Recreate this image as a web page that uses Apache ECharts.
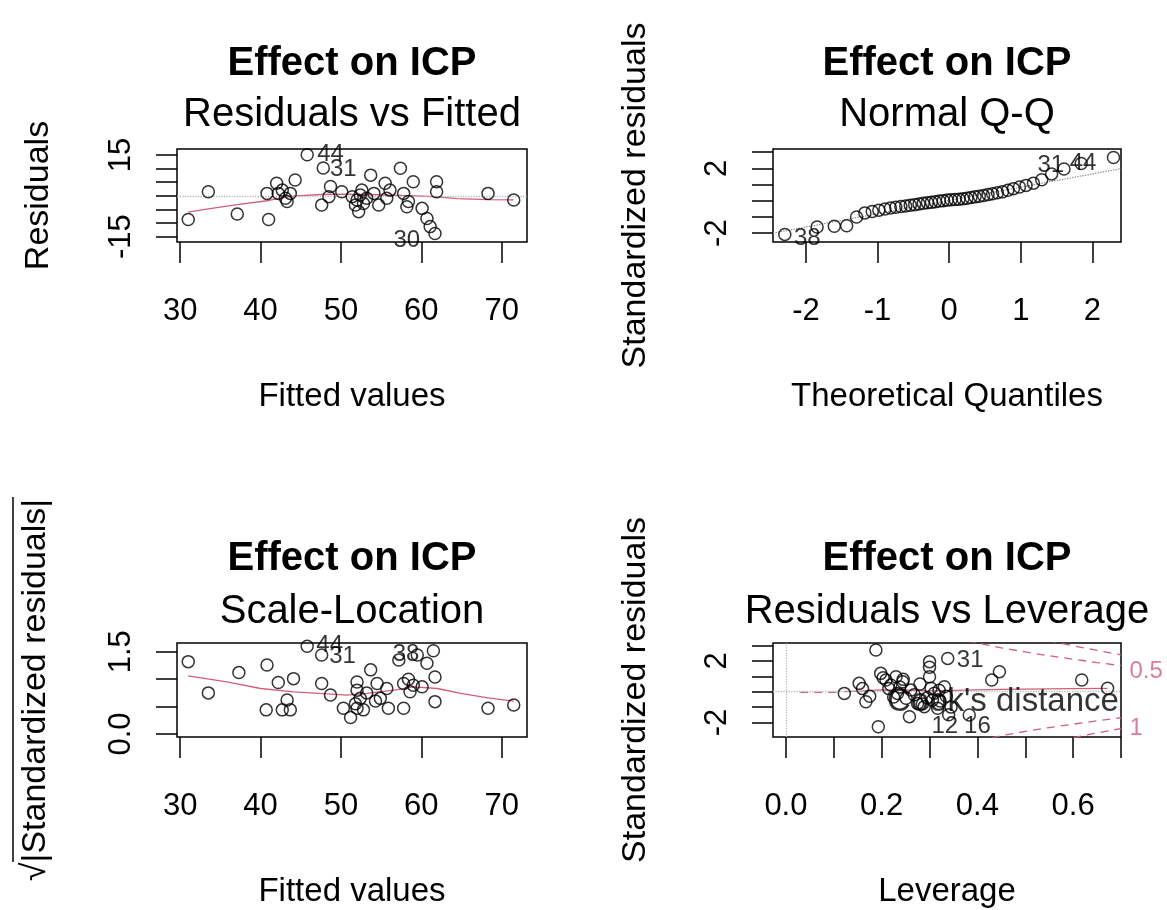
<!DOCTYPE html>
<html><head><meta charset="utf-8">
<script src="https://cdn.jsdelivr.net/npm/echarts@6/dist/echarts.min.js"></script>
<style>html,body{margin:0;padding:0;background:#fff}#c{width:1167px;height:910px}</style>
</head><body><div id="c"></div>
<script>
// ---------- DATA ----------
const mainTitle = 'Effect on ICP';
const panelTitles = ['Residuals vs Fitted', 'Normal Q-Q', 'Scale-Location', 'Residuals vs Leverage'];
const xNames = ['Fitted values', 'Theoretical Quantiles', 'Fitted values', 'Leverage'];
const yNames = ['Residuals', 'Standardized residuals', '\u221A|Standardized residuals|', 'Standardized residuals'];

// Panel 1: Residuals vs Fitted  [fitted, residual]
const rvfPoints = [[31.0,-8.7],[33.5,1.5],[37.1,-6.7],[40.8,0.9],[41.0,-8.7],[42.0,4.6],[42.7,2.1],[42.2,0.9],[43.1,-0.9],[43.3,-2.1],[44.3,5.8],[43.7,0.9],[45.8,15.1],[47.8,10.2],[47.6,-3.4],[48.5,-0.3],[48.7,3.4],[50.1,1.5],[51.4,-0.3],[51.8,-3.4],[52.2,-5.8],[52.6,2.1],[52.0,-1.5],[52.8,-2.8],[52.4,0.3],[53.7,7.6],[53.2,-0.9],[54.7,-3.4],[55.5,4.6],[55.7,-0.9],[57.4,10.1],[57.8,0.9],[58.2,-4.0],[58.4,-2.1],[59.0,5.2],[60.1,-4.6],[60.7,-8.3],[61.1,-11.3],[61.7,-13.8],[61.9,5.2],[61.9,1.5],[68.3,0.9],[71.5,-1.5],[54.1,0.9],[56.1,2.1]];
const rvfSmooth = [[31.0,-6.0],[33.5,-4.8],[37.1,-3.2],[40.8,-1.8],[42.2,-0.9],[44.3,0.0],[47.6,0.5],[50.1,0.6],[52.4,0.5],[54.7,0.4],[57.4,0.2],[60.1,-0.1],[61.9,-0.4],[64.5,-1.0],[68.3,-1.4],[71.5,-1.5]];
const rvfIds = [{name:'44', value:[48.7,15.3]},{name:'31', value:[50.3,9.7]},{name:'30', value:[58.2,-16.3]}];
const rvfXTicks = [30,40,50,60,70];
const rvfYTicks = [-15,-10,-5,0,5,10,15];
const rvfYLabels = [-15,15];

// Panel 2: Normal Q-Q  theoretical quantiles and sorted standardized residuals
const qqTheoretical = [-2.295,-1.844,-1.604,-1.431,-1.293,-1.177,-1.074,-0.982,-0.897,-0.819,-0.745,-0.674,-0.607,-0.543,-0.481,-0.421,-0.362,-0.304,-0.248,-0.192,-0.137,-0.082,-0.027,0.027,0.082,0.137,0.192,0.248,0.304,0.362,0.421,0.481,0.543,0.607,0.674,0.745,0.819,0.897,0.982,1.074,1.177,1.293,1.431,1.604,1.844,2.295];
const qqStdResid = [-2.08,-1.62,-1.58,-1.55,-1.00,-0.75,-0.66,-0.58,-0.51,-0.45,-0.40,-0.36,-0.32,-0.28,-0.24,-0.20,-0.16,-0.12,-0.10,-0.06,-0.02,0.00,0.04,0.06,0.08,0.10,0.12,0.16,0.20,0.24,0.28,0.32,0.38,0.43,0.49,0.55,0.65,0.75,0.85,0.95,1.09,1.30,1.66,1.96,2.30,2.67];
const qqLine = [[-2.46,-2.0],[2.40,1.99]];
const qqIds = [{name:'38', value:[-1.98,-2.33]},{name:'31', value:[1.42,2.2]},{name:'44', value:[1.87,2.3]}];
const qqXTicks = [-2,-1,0,1,2];
const qqYTicks = [-2,-1,0,1,2,3];
const qqYLabels = [-2,2];

// Panel 3: Scale-Location  [fitted, sqrt|std resid|]
const slPoints = [[31.0,1.32],[33.5,0.75],[37.3,1.12],[40.8,1.26],[40.7,0.44],[42.2,0.94],[42.7,0.44],[43.3,0.62],[43.7,0.44],[44.1,1.01],[45.8,1.60],[47.6,1.44],[47.6,0.92],[48.7,0.71],[50.3,0.47],[51.2,0.30],[52.0,0.95],[52.0,0.80],[52.0,0.47],[52.4,0.65],[52.8,0.44],[53.7,1.17],[54.5,0.92],[54.9,0.65],[55.7,0.83],[55.9,0.47],[57.8,0.92],[57.8,0.47],[57.2,1.35],[58.6,0.77],[59.0,0.89],[60.1,0.86],[60.7,1.29],[61.5,1.52],[61.7,1.04],[61.7,0.59],[68.3,0.47],[71.5,0.53],[59.5,1.44],[54.3,0.60],[51.8,0.55],[53.2,0.75],[58.4,1.00]];
const slSmooth = [[31.0,1.06],[35.8,0.95],[40.0,0.83],[44.1,0.77],[48.3,0.73],[50.7,0.71],[53.2,0.74],[56.6,0.80],[59.0,0.86],[62.0,0.83],[64.9,0.74],[68.3,0.66],[71.5,0.60]];
const slIds = [{name:'44', value:[48.6,1.62]},{name:'31', value:[50.2,1.41]},{name:'38', value:[58.1,1.46]}];
const slXTicks = [30,40,50,60,70];
const slYTicks = [0,0.5,1,1.5];
const slYLabels = [0,1.5];

// Panel 4: Residuals vs Leverage  [leverage, std resid]
const rvlPoints = [[0.122,-0.11],[0.153,0.54],[0.160,0.2],[0.167,-0.65],[0.175,-0.3],[0.188,2.71],[0.193,-2.27],[0.198,1.19],[0.203,0.9],[0.209,0.76],[0.215,0.2],[0.219,0.43],[0.225,-0.35],[0.23,0.97],[0.233,-0.11],[0.238,0.3],[0.244,0.65],[0.251,-0.43],[0.258,-1.62],[0.261,0.11],[0.268,-0.2],[0.275,-0.76],[0.28,0.5],[0.289,-0.97],[0.295,-0.4],[0.30,0.97],[0.30,1.59],[0.30,1.95],[0.303,0.22],[0.306,-0.55],[0.31,-0.1],[0.317,-1.08],[0.322,-0.6],[0.331,0.32],[0.335,-0.3],[0.338,2.16],[0.34,-1.5],[0.345,-1.0],[0.383,-1.51],[0.43,0.76],[0.446,1.3],[0.618,0.76],[0.672,0.22],[0.285,-0.8],[0.245,0.8],[0.32,0.1]];
const rvlSmooth = [[0.122,0.0],[0.16,0.05],[0.2,0.12],[0.25,0.1],[0.3,0.05],[0.35,0.08],[0.45,0.15],[0.6,0.2],[0.672,0.22]];
const cookHalfUpper = [[0.38,3.29],[0.40,3.16],[0.45,2.85],[0.50,2.58],[0.55,2.33],[0.60,2.11],[0.65,1.89],[0.70,1.69]];
const cookOneUpper = [[0.52,3.50],[0.55,3.30],[0.60,2.98],[0.65,2.68],[0.70,2.39]];
const cookHalfLower = [[0.43,-3.00],[0.45,-2.85],[0.50,-2.58],[0.55,-2.33],[0.60,-2.11],[0.65,-1.89],[0.70,-1.69]];
const cookOneLower = [[0.60,-2.98],[0.65,-2.68],[0.70,-2.39]];
const cookKey = [[0.03,-0.05],[0.117,-0.05]];
const cookLegend = [{name:"Cook's distance", value:[0.21,-0.65]}];
const cookLevelLabels = [{name:'0.5', value:[0.70,1.3]},{name:'1', value:[0.70,-2.35]}];
const rvlIds = [{name:'31', value:[0.385,2.01]},{name:'12', value:[0.332,-2.27]},{name:'16', value:[0.40,-2.27]}];
const rvlXTicks = [0,0.1,0.2,0.3,0.4,0.5,0.6,0.7];
const rvlXLabels = [0,0.2,0.4,0.6];
const rvlYTicks = [-2,-1,0,1,2,3];
const rvlYLabels = [-2,2];

// ---------- CHART ----------
const FONT = '"Liberation Sans", Arial, Helvetica, sans-serif';
const BLACK = '#000';
const RED = '#cf5f7b';
const grids = [
  {left:177, top:149, width:350, height:93},
  {left:773, top:149, width:348, height:93},
  {left:177, top:643, width:350, height:94},
  {left:773, top:643, width:348, height:94}
].map(g => Object.assign({show:true, borderColor:BLACK, borderWidth:1.5, backgroundColor:'transparent', containLabel:false, outerBoundsMode:'none'}, g));

const fmtInt = v => String(v);
const fmt1 = v => v.toFixed(1);

function xAx(gi, min, max, ticks, labels, fmt, name) {
  return {type:'value', gridIndex:gi, min, max, position:'bottom',
    axisLine:{show:false, onZero:false}, splitLine:{show:false},
    axisTick:{show:true, inside:false, length:21, customValues:ticks, lineStyle:{color:BLACK, width:1.5}},
    axisLabel:{show:true, margin:54, customValues:labels, formatter:fmt, color:BLACK, fontFamily:FONT, fontSize:31},
    name, nameLocation:'middle', nameGap:138, nameMoveOverlap:false,
    nameTextStyle:{color:BLACK, fontFamily:FONT, fontSize:33}};
}
function yAx(gi, min, max, ticks, labels, fmt, name, gap) {
  return {type:'value', gridIndex:gi, min, max, position:'left',
    axisLine:{show:false, onZero:false}, splitLine:{show:false},
    axisTick:{show:true, inside:false, length:21, customValues:ticks, lineStyle:{color:BLACK, width:1.5}},
    axisLabel:{show:true, rotate:90, margin:40, customValues:labels, formatter:fmt, color:BLACK, fontFamily:FONT, fontSize:31},
    name, nameLocation:'middle', nameGap:gap, nameMoveOverlap:false,
    nameTextStyle:{color:BLACK, fontFamily:FONT, fontSize:34}};
}
function pts(gi, data, extra) {
  return Object.assign({type:'scatter', xAxisIndex:gi, yAxisIndex:gi, data, symbol:'circle', symbolSize:12,
    itemStyle:{color:'rgba(0,0,0,0)', borderColor:BLACK, borderWidth:1.5}, silent:true, z:5}, extra || {});
}
function ids(gi, data, opts) {
  opts = opts || {};
  return {type:'scatter', xAxisIndex:gi, yAxisIndex:gi, data, symbolSize:1, clip:false,
    itemStyle:{color:'rgba(0,0,0,0)'}, silent:true, z:6,
    label:{show:true, position:opts.position || 'inside', distance:opts.distance || 0, formatter:p => p.name,
      fontFamily:FONT, fontSize:opts.size || 24, color:opts.color || BLACK}};
}
function ln(gi, data, color, type, width, z) {
  return {type:'line', xAxisIndex:gi, yAxisIndex:gi, data, showSymbol:false, symbol:'none', clip:true,
    lineStyle:{color, type, width}, silent:true, z:z || 3};
}
const zeroMark = (lines) => ({silent:true, symbol:'none', label:{show:false},
  lineStyle:{color:'#b8b8b8', type:'dotted', width:1.3}, data:lines});

function titlePair(cx, y1, y2, sub) {
  return [
    {text:mainTitle, left:cx, top:y1, textAlign:'center', textVerticalAlign:'middle', padding:0,
      textStyle:{fontFamily:FONT, fontWeight:'bold', fontSize:40, color:BLACK}},
    {text:sub, left:cx, top:y2, textAlign:'center', textVerticalAlign:'middle', padding:0,
      textStyle:{fontFamily:FONT, fontWeight:'normal', fontSize:40, color:BLACK}}
  ];
}

const qqPoints = qqTheoretical.map((q, i) => [q, qqStdResid[i]]);

const option = {
  animation:false,
  backgroundColor:'#fff',
  title:[].concat(
    titlePair(352, 64, 115, panelTitles[0]),
    titlePair(947, 64, 115, panelTitles[1]),
    titlePair(352, 559, 612, panelTitles[2]),
    titlePair(947, 559, 612, panelTitles[3])
  ),
  grid:grids,
  xAxis:[
    xAx(0, 29.6, 73.15, rvfXTicks, rvfXTicks, fmtInt, xNames[0]),
    xAx(1, -2.46, 2.40, qqXTicks, qqXTicks, fmtInt, xNames[1]),
    xAx(2, 29.6, 73.15, slXTicks, slXTicks, fmtInt, xNames[2]),
    xAx(3, -0.027, 0.70, rvlXTicks, rvlXLabels, fmt1, xNames[3])
  ],
  yAxis:[
    yAx(0, -16.95, 17.2, rvfYTicks, rvfYLabels, fmtInt, yNames[0], 121),
    yAx(1, -2.55, 3.2, qqYTicks, qqYLabels, fmtInt, yNames[1], 120),
    yAx(2, -0.055, 1.66, slYTicks, slYLabels, fmt1, yNames[2], 124),
    yAx(3, -2.94, 3.16, rvlYTicks, rvlYLabels, fmtInt, yNames[3], 120)
  ],
  graphic:[
    {type:'line', shape:{x1:13, y1:497, x2:13, y2:862}, style:{stroke:BLACK, lineWidth:1.5}, silent:true}
  ],
  series:[
    // panel 1
    pts(0, rvfPoints, {markLine:zeroMark([{yAxis:0}])}),
    ln(0, rvfSmooth, RED, 'solid', 1.3),
    ids(0, rvfIds),
    // panel 2
    pts(1, qqPoints),
    ln(1, qqLine, '#8c8c8c', 'dotted', 1.3, 2),
    ids(1, qqIds),
    // panel 3
    pts(2, slPoints),
    ln(2, slSmooth, RED, 'solid', 1.3),
    ids(2, slIds),
    // panel 4
    pts(3, rvlPoints, {markLine:zeroMark([{xAxis:0},{yAxis:0}])}),
    ln(3, rvlSmooth, RED, 'solid', 1.3),
    ln(3, cookHalfUpper, RED, [8,6], 1.3),
    ln(3, cookOneUpper, RED, [8,6], 1.3),
    ln(3, cookHalfLower, RED, [8,6], 1.3),
    ln(3, cookOneLower, RED, [8,6], 1.3),
    ln(3, cookKey, RED, [8,6], 1.3),
    ids(3, rvlIds),
    ids(3, cookLegend, {position:'right', distance:0, size:33}),
    ids(3, cookLevelLabels, {position:'right', distance:8, size:24, color:RED})
  ]
};

const chart = echarts.init(document.getElementById('c'), null, {renderer:'canvas'});
chart.setOption(option);
</script></body></html>
